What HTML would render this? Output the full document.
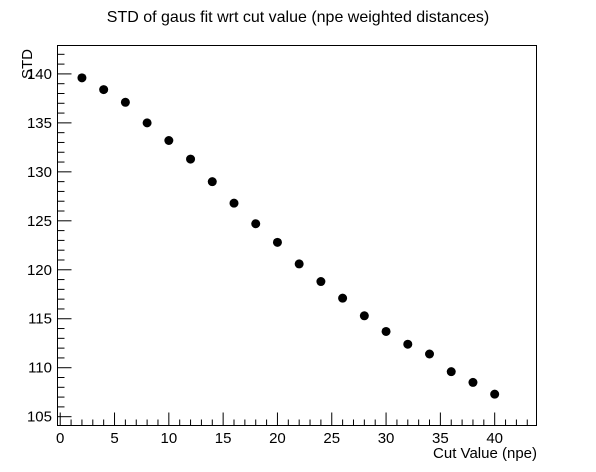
<!DOCTYPE html>
<html><head><meta charset="utf-8"><style>
body{margin:0;background:#fff;}
svg{display:block;font-family:"Liberation Sans",Arial,sans-serif;}
</style></head><body>
<svg id="chart" width="596" height="472" viewBox="0 0 596 472">
<rect width="596" height="472" fill="#fff"/>
<text x="298" y="22" font-size="16" text-anchor="middle">STD of gaus fit wrt cut value (npe weighted distances)</text>
<g id="axes"></g>
<g id="marks"></g>
<rect x="57.5" y="45.5" width="479" height="380" fill="none" stroke="#000" stroke-width="1"/>
<text x="537" y="458" font-size="15" text-anchor="end">Cut Value (npe)</text>
<text transform="translate(32,79) rotate(-90)" font-size="15" text-anchor="start">STD</text>
</svg>
<script>
const cutValues=[2,4,6,8,10,12,14,16,18,20,22,24,26,28,30,32,34,36,38,40];
const stdValues=[139.6,138.4,137.1,135.0,133.2,131.3,129.0,126.8,124.7,122.8,120.6,118.8,117.1,115.3,113.7,112.4,111.4,109.6,108.5,107.3];
const xTickLabels=[0,5,10,15,20,25,30,35,40];
const yTickLabels=[105,110,115,120,125,130,135,140];
const L=57.5,R=536.5,T=45.5,B=425.5;
const xMin=-0.25,xMax=43.85,yMin=104.1,yMax=142.9;
const sx=v=>L+(v-xMin)/(xMax-xMin)*(R-L);
const sy=v=>B-(v-yMin)/(yMax-yMin)*(B-T);
const NS='http://www.w3.org/2000/svg';
const axes=document.getElementById('axes'),marks=document.getElementById('marks');
function mk(tag,attrs,parent){const e=document.createElementNS(NS,tag);for(const k in attrs)e.setAttribute(k,attrs[k]);parent.appendChild(e);return e;}
for(let v=0;v<=43;v++){
  const major=v%5===0;
  const l=mk('line',{x1:sx(v),x2:sx(v),y1:B,y2:B-(major?13:6),stroke:'#000','stroke-width':1},axes);
  
  
}
for(let v=105;v<=142;v++){
  const major=v%5===0;
  const l=mk('line',{x1:L,x2:L+(major?14:7),y1:sy(v),y2:sy(v),stroke:'#000','stroke-width':1},axes);
  
  
}
xTickLabels.forEach(v=>{
  const t=mk('text',{x:sx(v),y:443,'font-size':15,'text-anchor':'middle'},axes);
  t.textContent=v;
  
  
});
yTickLabels.forEach(v=>{
  const t=mk('text',{x:52,y:sy(v)+5,'font-size':15,'text-anchor':'end'},axes);
  t.textContent=v;
  
  
});
cutValues.forEach((c,i)=>{
  const p=mk('circle',{cx:sx(c),cy:sy(stdValues[i]),r:4.5,fill:'#000'},marks);
  
  
});
</script>
</body></html>
